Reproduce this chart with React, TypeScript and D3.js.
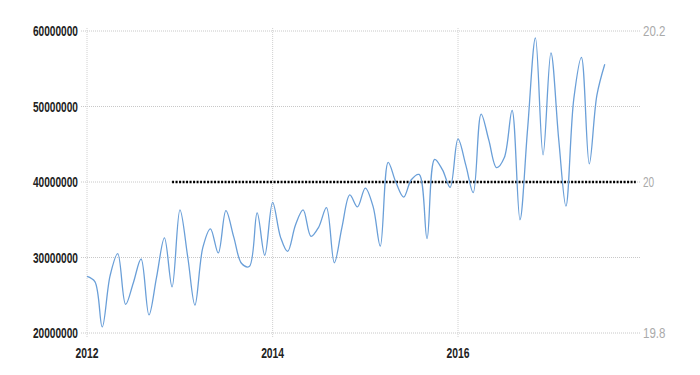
import React from 'react';
import * as d3 from 'd3';

// monthly values, Jan 2012 .. Aug 2017
const startYear = 2012;
const monthlyValues = [
  27.5, 26.8, 20.8, 27.6, 30.5, 23.8, 26.6, 29.8, 22.4, 27.4, 32.6, 26.1,
  36.3, 30.0, 23.7, 31.3, 33.8, 30.6, 36.2, 32.7, 29.2, 28.8, 35.9, 30.3,
  37.3, 32.7, 30.8, 34.3, 36.3, 32.8, 34.0, 36.6, 29.3, 34.0, 38.3, 36.7,
  39.2, 36.7, 31.5, 42.6, 40.0, 38.0, 40.3, 41.0, 32.5, 43.0, 41.6, 39.3,
  45.7, 42.2, 38.6, 49.0, 45.6, 41.9, 43.2, 49.5, 35.0, 47.0, 59.1, 43.6,
  57.1, 45.5, 36.8, 51.0, 56.5, 42.4, 51.5, 55.6,
].map((v) => v * 1e6);

// second series (right axis), yearly in December
const forecastYears = [2012, 2013, 2014, 2015, 2016, 2017];
const forecastValues = [20, 20, 20, 20, 20, 20];

const leftTicks = [20000000, 30000000, 40000000, 50000000, 60000000];
const rightTicks = [19.8, 20, 20.2];
const yearTicks = [2012, 2014, 2016];

const W = 700;
const H = 375;
const plotLeft = 87;
const plotRight = 640;
const plotTop = 31;
const plotBottom = 333;

const font = '"Liberation Sans", Arial, sans-serif';

export default function App() {
  const x = d3
    .scaleTime()
    .domain([new Date(2012, 0, 1), new Date(2016, 0, 1)])
    .range([plotLeft, 458]);
  const y = d3.scaleLinear().domain([20000000, 60000000]).range([plotBottom, plotTop]);
  const y2 = d3.scaleLinear().domain([19.8, 20.2]).range([plotBottom, plotTop]);

  const mainData = monthlyValues.map((v, i) => ({ date: new Date(startYear, i, 1), value: v }));
  const dotData = forecastYears.map((yr, i) => ({ date: new Date(yr, 11, 1), value: forecastValues[i] }));

  const line = d3
    .line<{ date: Date; value: number }>()
    .x((d) => x(d.date))
    .y((d) => y(d.value))
    .curve(d3.curveCatmullRom.alpha(0.5));

  const dotLine = d3
    .line<{ date: Date; value: number }>()
    .x((d) => x(d.date))
    .y((d) => y2(d.value));

  return (
    <svg width={W} height={H} style={{ position: 'absolute', left: 0, top: 0, background: '#fff' }}>
      {/* horizontal grid */}
      {leftTicks.map((t) => (
        <g key={t}>
          <line
            x1={plotLeft - 6}
            x2={plotRight}
            y1={y(t)}
            y2={y(t)}
            stroke="#c8c8c8"
            strokeWidth={1}
            strokeDasharray="1,1"
          />
          <text
            x={78}
            y={y(t) + 5}
            textAnchor="end"
            fontFamily={font}
            fontSize={14}
            fontWeight="bold"
            fill="#222"
            textLength={45}
            lengthAdjust="spacingAndGlyphs"
          >
            {t}
          </text>
        </g>
      ))}
      {/* vertical grid */}
      {yearTicks.map((yr) => (
        <g key={yr}>
          <line
            x1={x(new Date(yr, 0, 1))}
            x2={x(new Date(yr, 0, 1))}
            y1={plotTop - 3}
            y2={plotBottom + 5}
            stroke="#d0d0d0"
            strokeWidth={1}
            strokeDasharray="1,1"
          />
          <text
            x={x(new Date(yr, 0, 1))}
            y={358}
            textAnchor="middle"
            fontFamily={font}
            fontSize={14.5}
            fontWeight="bold"
            fill="#222"
            textLength={23}
            lengthAdjust="spacingAndGlyphs"
          >
            {yr}
          </text>
        </g>
      ))}
      {/* right axis labels */}
      {rightTicks.map((t) => (
        <text
          key={t}
          x={643}
          y={y2(t) + 5}
          textAnchor="start"
          fontFamily={font}
          fontSize={14}
          fill="#aaa"
          textLength={String(t).length * 5.6}
          lengthAdjust="spacingAndGlyphs"
        >
          {t}
        </text>
      ))}
      <path
        d={dotLine(dotData) || ''}
        fill="none"
        stroke="#000"
        strokeWidth={2.5}
        strokeDasharray="2,1.5"
      />
      <path d={line(mainData) || ''} fill="none" stroke="#6a9fd8" strokeWidth={1.3} />
    </svg>
  );
}
